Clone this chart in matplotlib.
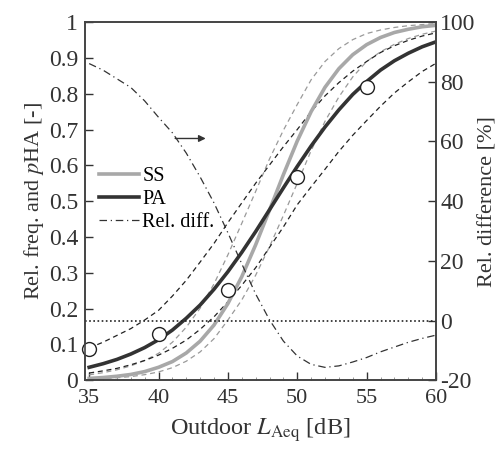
import matplotlib
matplotlib.use("Agg")
import matplotlib.pyplot as plt
from matplotlib.ticker import MultipleLocator

plt.rcParams['font.family'] = ['Liberation Serif', 'DejaVu Serif']
plt.rcParams['mathtext.fontset'] = 'stix'
plt.rcParams['axes.unicode_minus'] = False

# Outdoor LAeq [dB]
level = [35, 36, 37, 38, 39, 40, 41, 42, 43, 44, 45, 46, 47,
         48, 49, 50, 51, 52, 53, 54, 55, 56, 57, 58, 59, 60]

# fitted curves (pHA)
ss = [0.005, 0.0074, 0.011, 0.016, 0.024, 0.036, 0.052, 0.076, 0.109, 0.154,
      0.214, 0.289, 0.378, 0.475, 0.574, 0.668, 0.750, 0.818, 0.870, 0.909,
      0.937, 0.957, 0.971, 0.980, 0.987, 0.991]
pa = [0.036, 0.046, 0.058, 0.073, 0.091, 0.113, 0.140, 0.173, 0.210, 0.254,
      0.303, 0.357, 0.415, 0.476, 0.537, 0.597, 0.654, 0.707, 0.755, 0.798,
      0.834, 0.866, 0.892, 0.913, 0.931, 0.945]

# confidence bands
ss_hi = [0.015, 0.021, 0.029, 0.040, 0.055, 0.075, 0.106, 0.148, 0.201, 0.269,
         0.350, 0.438, 0.527, 0.618, 0.698, 0.770, 0.839, 0.890, 0.926, 0.951,
         0.968, 0.978, 0.985, 0.990, 0.993, 0.995]
ss_lo = [0.003, 0.0045, 0.0068, 0.010, 0.0154, 0.023, 0.035, 0.053, 0.079, 0.116,
         0.168, 0.224, 0.293, 0.373, 0.460, 0.550, 0.641, 0.723, 0.791, 0.847,
         0.890, 0.917, 0.938, 0.954, 0.966, 0.975]
pa_hi = [0.090, 0.106, 0.125, 0.144, 0.168, 0.195, 0.235, 0.279, 0.330, 0.382,
         0.440, 0.495, 0.550, 0.601, 0.652, 0.700, 0.750, 0.794, 0.831, 0.863,
         0.890, 0.915, 0.934, 0.949, 0.961, 0.970]
pa_lo = [0.020, 0.026, 0.033, 0.043, 0.055, 0.070, 0.089, 0.112, 0.142, 0.177,
         0.219, 0.265, 0.314, 0.371, 0.428, 0.490, 0.540, 0.589, 0.639, 0.684,
         0.725, 0.765, 0.802, 0.833, 0.862, 0.885]

# relative difference [%] (right axis)
rel_diff = [86.1, 83.9, 81.0, 78.1, 73.6, 68.1, 62.9, 56.1, 48.1, 39.4, 29.4,
            19.0, 8.9, 0.2, -6.9, -11.9, -14.7, -15.7, -15.2, -13.9, -12.4,
            -10.5, -8.9, -7.3, -6.0, -4.9]

# observed relative frequencies
obs_level = [35, 40, 45, 50, 55]
obs_freq = [0.086, 0.130, 0.251, 0.568, 0.819]

fig = plt.figure(figsize=(5.0, 4.51), dpi=100)
ax = fig.add_axes([0.17, 0.157, 0.702, 0.794])
ax2 = ax.twinx()

dash = (4, 3)
ax.plot(level, ss_hi, color='#9a9a9a', lw=0.9, dashes=dash)
ax.plot(level, ss_lo, color='#9a9a9a', lw=0.9, dashes=dash)
ax.plot(level, pa_hi, color='#222222', lw=0.9, dashes=dash)
ax.plot(level, pa_lo, color='#222222', lw=0.9, dashes=dash)
l_ss, = ax.plot(level, ss, color='#a8a8a8', lw=2.6, label='SS')
l_pa, = ax.plot(level, pa, color='#333333', lw=2.6, label='PA')
ax.plot(obs_level, obs_freq, 'o', ms=10, mfc='white', mec='#222222',
        mew=1.0, zorder=5, clip_on=False)

l_rd, = ax2.plot(level, rel_diff, color='#333333', lw=0.9,
                 dashes=(6, 3, 1, 3), label='Rel. diff.')
ax2.axhline(0, color='#222222', lw=1.2, dashes=(1, 1.5))
ax2.annotate('', xy=(43.4, 61.0), xytext=(41.2, 61.0),
             arrowprops=dict(arrowstyle='-|>', color='#333333', lw=1.0,
                             mutation_scale=10, shrinkA=0, shrinkB=0))

ax.set_xlim(34.7, 60)
ax.set_ylim(0, 1)
ax2.set_ylim(-20, 100)

ax.set_xticks([35, 40, 45, 50, 55, 60])
ax.xaxis.set_minor_locator(MultipleLocator(1))
yt = [0, 0.1, 0.2, 0.3, 0.4, 0.5, 0.6, 0.7, 0.8, 0.9, 1]
ax.set_yticks(yt)
ax.set_yticklabels(['0', '0.1', '0.2', '0.3', '0.4', '0.5', '0.6', '0.7',
                    '0.8', '0.9', '1'])
ax2.set_yticks([-20, 0, 20, 40, 60, 80, 100])

ax.tick_params(axis='x', which='major', direction='in', length=6,
               width=1.0, labelsize=16, colors='#333333', pad=6)
ax.tick_params(axis='y', which='major', direction='in', length=6,
               width=1.0, labelsize=17, colors='#333333', pad=5)
ax.tick_params(axis='x', which='minor', direction='in', length=2.5,
               width=0.6, colors='#888888')
ax2.tick_params(axis='y', direction='in', length=6, width=1.0,
                labelsize=17, colors='#333333', pad=3)
for a in (ax, ax2):
    for s in a.spines.values():
        s.set_color('#444444')
        s.set_linewidth(1.2)

ax.set_xlabel('Outdoor $L_{\\mathrm{Aeq}}$ [dB]', fontsize=17.5,
              color='#333333', labelpad=6)
ax.set_ylabel('Rel. freq. and $p$HA [-]', fontsize=16, color='#333333',
              labelpad=2)
ax2.set_ylabel('Rel. difference [%]', fontsize=16, color='#333333',
               labelpad=2)

ax.legend(handles=[l_ss, l_pa, l_rd], loc='upper left',
          bbox_to_anchor=(0.0, 0.635), frameon=False, fontsize=14.5,
          handlelength=2.0, handletextpad=0.15, labelspacing=0.2,
          borderaxespad=0.3)

fig.savefig('out.png', dpi=100)
